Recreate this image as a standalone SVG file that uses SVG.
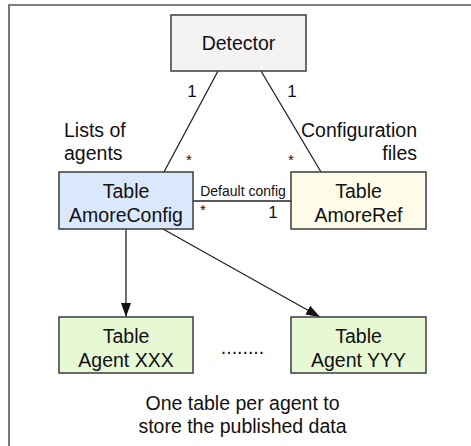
<svg xmlns="http://www.w3.org/2000/svg" width="471" height="446" viewBox="0 0 471 446">
<defs>
<style>
.box{stroke:#3c3c3c;stroke-width:1.5}
.t{font-family:"Liberation Sans",Arial,sans-serif;font-size:19.5px;fill:#111}
.s{font-family:"Liberation Sans",Arial,sans-serif;font-size:17px;fill:#111}
.st{font-family:"Liberation Sans",Arial,sans-serif;font-size:15px;fill:#111}
.sm{font-family:"Liberation Sans",Arial,sans-serif;font-size:14px;fill:#111}
.ln{stroke:#222;stroke-width:1.3;fill:none}
</style>
<marker id="ahl" viewBox="0 0 14 10" refX="14" refY="5" markerWidth="14" markerHeight="10" markerUnits="userSpaceOnUse" orient="auto">
<path d="M0,0 L14,5 L0,10 z" fill="#111"/>
</marker>
</defs>
<rect width="471" height="446" fill="#fff"/>
<g id="frame">
<path d="M9,446 V5 H471" fill="none" stroke="#555" stroke-width="1.6"/>
</g>
<g id="connectors">
<line class="ln" x1="218" y1="71" x2="164" y2="172"/>
<line class="ln" x1="261" y1="71" x2="321" y2="172"/>
<line class="ln" x1="193" y1="201" x2="291" y2="201"/>
<line class="ln" x1="126" y1="229" x2="126" y2="317" marker-end="url(#ahl)"/>
<line class="ln" x1="163" y1="229" x2="320" y2="317" marker-end="url(#ahl)"/>
<text class="s" x="192" y="97" text-anchor="middle">1</text>
<text class="s" x="292" y="97" text-anchor="middle">1</text>
<text class="st" x="189" y="165" text-anchor="middle">*</text>
<text class="st" x="291" y="165" text-anchor="middle">*</text>
<text class="sm" x="243" y="196" text-anchor="middle">Default config</text>
<text class="st" x="203" y="215" text-anchor="middle">*</text>
<text class="s" x="273" y="218" text-anchor="middle">1</text>
</g>
<g id="detector">
<rect class="box" x="171" y="15" width="135" height="56" fill="#f3f3f3"/>
<text class="t" x="238.5" y="50" text-anchor="middle">Detector</text>
</g>
<g id="amoreconfig">
<rect class="box" x="59" y="172" width="134" height="57" fill="#dae8fc"/>
<text class="t" x="126" y="198" text-anchor="middle">Table</text>
<text class="t" x="126" y="221.5" text-anchor="middle">AmoreConfig</text>
</g>
<g id="amoreref">
<rect class="box" x="291" y="172" width="135" height="57" fill="#fffde9"/>
<text class="t" x="358.5" y="198" text-anchor="middle">Table</text>
<text class="t" x="358.5" y="221.5" text-anchor="middle">AmoreRef</text>
</g>
<g id="agentxxx">
<rect class="box" x="59" y="317" width="134" height="56" fill="#e7f8d5"/>
<text class="t" x="126" y="343" text-anchor="middle">Table</text>
<text class="t" x="126" y="366.5" text-anchor="middle">Agent XXX</text>
</g>
<g id="agentyyy">
<rect class="box" x="291" y="317" width="135" height="56" fill="#e7f8d5"/>
<text class="t" x="358.5" y="343" text-anchor="middle">Table</text>
<text class="t" x="358.5" y="366.5" text-anchor="middle">Agent YYY</text>
</g>
<g id="labels">
<text class="t" x="64" y="137">Lists of</text>
<text class="t" x="64" y="160">agents</text>
<text class="t" x="417" y="137" text-anchor="end">Configuration</text>
<text class="t" x="417" y="160" text-anchor="end">files</text>
<text class="t" x="242.5" y="354" text-anchor="middle">........</text>
<text class="t" x="242.5" y="410" text-anchor="middle">One table per agent to</text>
<text class="t" x="242.5" y="433" text-anchor="middle">store the published data</text>
</g>
</svg>
